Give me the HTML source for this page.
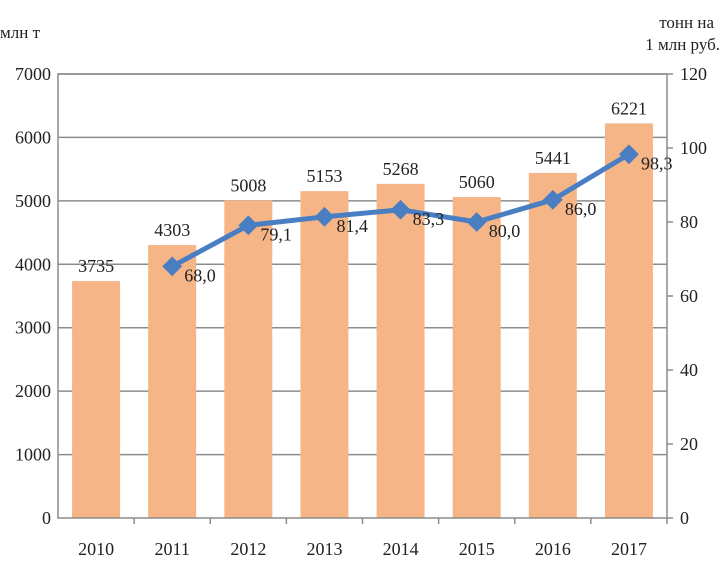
<!DOCTYPE html>
<html><head><meta charset="utf-8"><style>
body{margin:0;background:#fff;}
text{font-family:"Liberation Serif",serif;fill:#222;}
</style></head><body>
<svg width="727" height="567" id="c"></svg>
<script>
const years=['2010','2011','2012','2013','2014','2015','2016','2017'];
const volumes=[3735,4303,5008,5153,5268,5060,5441,6221];
const intYears=['2011','2012','2013','2014','2015','2016','2017'];
const intensity=[68.0,79.1,81.4,83.3,80.0,86.0,98.3];
const leftTicks=[0,1000,2000,3000,4000,5000,6000,7000];
const rightTicks=[0,20,40,60,80,100,120];
const NS='http://www.w3.org/2000/svg';
const svg=document.getElementById('c');
const L=58,R=667,T=74,B=518;
const step=(R-L)/years.length;
const xc=i=>L+step*(i+0.5);
const yL=v=>B-(v/7000)*(B-T);
const yR=v=>B-(v/120)*(B-T);
function el(tag,a,txt){const e=document.createElementNS(NS,tag);for(const k in a)e.setAttribute(k,a[k]);if(txt!=null)e.textContent=txt;svg.appendChild(e);return e;}
leftTicks.forEach(t=>{
 if(t>0){const g=el('line',{x1:L,x2:R,y1:yL(t),y2:yL(t),stroke:'#8c8c8c','stroke-width':1.5});
 
 }
 const lb=el('text',{x:51,y:yL(t)+6,'text-anchor':'end','font-size':18},t);
 
 
});
rightTicks.forEach(t=>{
 el('line',{x1:R,x2:R+6,y1:yR(t),y2:yR(t),stroke:'#8c8c8c','stroke-width':1.5});
 const lb=el('text',{x:680,y:yR(t)+6,'font-size':18},t);
 
 
});
years.forEach((y,i)=>{
 const b=el('rect',{x:xc(i)-24,y:yL(volumes[i]),width:48,height:B-yL(volumes[i]),fill:'#f6b587'});
 
 
 const v=el('text',{x:xc(i),y:yL(volumes[i])-9,'text-anchor':'middle','font-size':18},volumes[i]);
 
 
 const xl=el('text',{x:xc(i),y:555,'text-anchor':'middle','font-size':18},y);
 
 
 el('line',{x1:L+step*(i+1),x2:L+step*(i+1),y1:B,y2:B+6,stroke:'#8c8c8c','stroke-width':1.5});
});
el('rect',{x:L,y:T,width:R-L,height:B-T,fill:'none',stroke:'#8c8c8c','stroke-width':1.5});
const pts=intYears.map((y,j)=>[xc(years.indexOf(y)),yR(intensity[j])]);
const ln=el('polyline',{points:pts.map(p=>p.join(',')).join(' '),fill:'none',stroke:'#4a7ec2','stroke-width':5,'stroke-linejoin':'round'});


pts.forEach((p,j)=>{
 const m=el('rect',{x:p[0]-7,y:p[1]-7,width:14,height:14,fill:'#4a7ec2',transform:`rotate(45 ${p[0]} ${p[1]})`});
 
 
 const t=el('text',{x:p[0]+12,y:p[1]+15,'font-size':18},intensity[j].toFixed(1).replace('.',','));
 
 
});
const a=el('text',{x:0,y:38,'font-size':17},'млн т');


const b1=el('text',{x:714,y:28,'font-size':17,'text-anchor':'end'},'тонн на');


const b2=el('text',{x:720,y:50,'font-size':17,'text-anchor':'end'},'1 млн руб.');


</script>
</body></html>
